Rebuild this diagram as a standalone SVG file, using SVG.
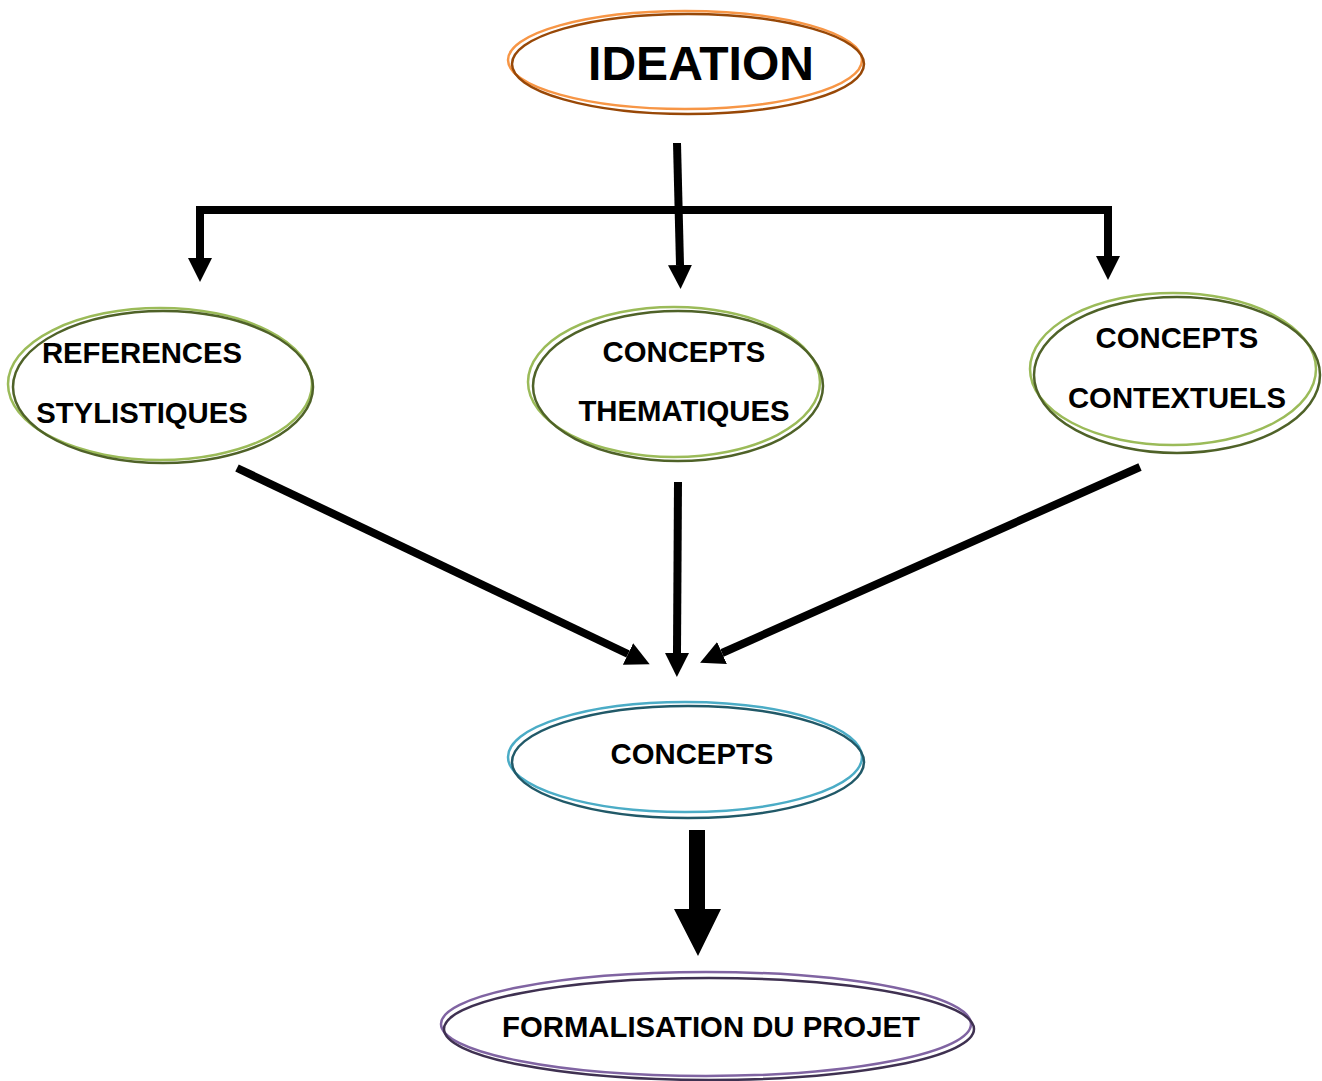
<svg xmlns="http://www.w3.org/2000/svg" width="1322" height="1081" viewBox="0 0 1322 1081">
<style>
.lbl{font-family:"Liberation Sans",Arial,sans-serif;font-weight:bold;fill:#000;text-anchor:middle;font-size:29.3px}
.big{font-size:48px}
ellipse{fill:none;stroke-width:2.5}
.or1{stroke:#F79646}.or2{stroke:#984807}
.gr1{stroke:#9BBB59}.gr2{stroke:#4F6228}
.bl1{stroke:#4BACC6}.bl2{stroke:#215968}
.pu1{stroke:#8064A2}.pu2{stroke:#3F3151}
.con{fill:none;stroke:#000;stroke-width:8}
</style>
<defs>
<marker id="ah" markerUnits="userSpaceOnUse" markerWidth="24" markerHeight="24" refX="0" refY="12" orient="auto" viewBox="0 0 24 24">
<path d="M0,0 L24,12 L0,24 Z" fill="#000"/>
</marker>
</defs>
<rect width="1322" height="1081" fill="#fff"/>
<g id="connectors">
<path class="con" d="M677,143 L680,265" marker-end="url(#ah)"/>
<path class="con" d="M200,262 L200,210 L1108,210 L1108,256" marker-end="url(#ah)"/>
<path class="con" d="M200,212 L200,258" marker-end="url(#ah)"/>
<path class="con" d="M237,468 L628,654" marker-end="url(#ah)"/>
<path class="con" d="M678,482 L677,653" marker-end="url(#ah)"/>
<path class="con" d="M1140,467 L722,653" marker-end="url(#ah)"/>
<path d="M689,830 L705,830 L705,909 L721,909 L698,956 L674,909 L689,909 Z" fill="#000"/>
</g>
<g id="ideation">
<ellipse class="or1" cx="685" cy="60" rx="177" ry="49"/>
<ellipse class="or2" cx="688" cy="64" rx="176" ry="50"/>
<text class="lbl big" x="701" y="80">IDEATION</text>
</g>
<g id="references">
<ellipse class="gr1" cx="160" cy="384" rx="152" ry="76"/>
<ellipse class="gr2" cx="163" cy="387" rx="150" ry="76"/>
<text class="lbl" x="142" y="363">REFERENCES</text>
<text class="lbl" x="142" y="423">STYLISTIQUES</text>
</g>
<g id="thematiques">
<ellipse class="gr1" cx="674" cy="382" rx="146" ry="75"/>
<ellipse class="gr2" cx="678" cy="386" rx="145" ry="75"/>
<text class="lbl" x="684" y="362">CONCEPTS</text>
<text class="lbl" x="684" y="421">THEMATIQUES</text>
</g>
<g id="contextuels">
<ellipse class="gr1" cx="1173" cy="369" rx="143" ry="76"/>
<ellipse class="gr2" cx="1177" cy="375" rx="143" ry="78"/>
<text class="lbl" x="1177" y="348">CONCEPTS</text>
<text class="lbl" x="1177" y="408">CONTEXTUELS</text>
</g>
<g id="concepts">
<ellipse class="bl1" cx="685" cy="757" rx="177" ry="55"/>
<ellipse class="bl2" cx="688" cy="762" rx="176" ry="56"/>
<text class="lbl" x="692" y="764">CONCEPTS</text>
</g>
<g id="formalisation">
<ellipse class="pu1" cx="706" cy="1024" rx="265" ry="52"/>
<ellipse class="pu2" cx="709" cy="1029" rx="265" ry="51"/>
<text class="lbl" x="711" y="1037">FORMALISATION DU PROJET</text>
</g>
</svg>
